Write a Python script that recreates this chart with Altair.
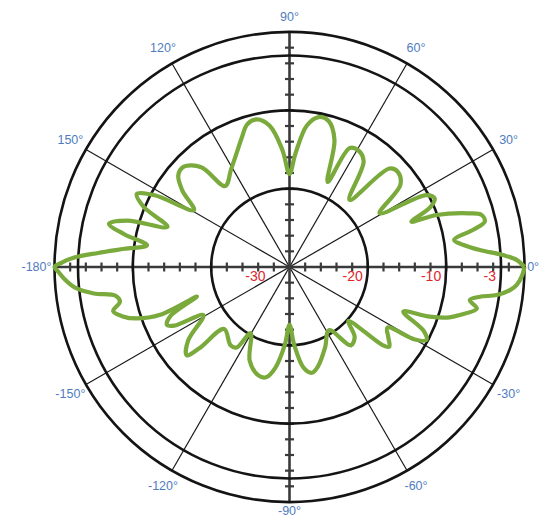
import altair as alt
import pandas as pd

# ---- radiation pattern, traced in drawing order (angle in degrees, level in dB) ----
pattern_deg = [
    0, 1.8, 3.2, 5.1, 7.2, 9.3, 11.5, 13.1, 15.2, 16.6, 19.5, 20.4, 23.0, 25.3, 27.8,
    30.8, 36.5, 41.3, 44.6, 48.2, 55.0, 59.7, 63.2, 65.8, 70.5, 75.0, 79.0, 83.0, 87.0,
    90.0, 93.5, 98.0, 102.5, 106.5, 110.5, 115.0, 121.0, 128.5, 131.5, 136.5, 140.5,
    144.5, 149.2, 152.0, 154.5, 157.5, 161.8, 164.0, 166.5, 168.8, 171.3, 173.7, 175.8,
    177.5, 179.0, 180.0,
    -178.8, -177.0, -174.5, -172.3, -170.6, -168.4, -166.0, -163.5, -161.4, -159.7,
    -162.3, -157.5, -154.7, -153.0, -150.8, -144.0, -139.4, -138.0, -136.5, -127.0,
    -123.3, -120.5, -113.0, -106.0, -102.0, -98.0, -93.5, -90.0, -86.5, -82.0, -78.0,
    -74.0, -66.0, -58.0, -52.0, -47.0, -42.5, -40.0, -38.6, -35.5, -31.8, -30.0, -28.1,
    -25.5, -21.4, -19.5, -17.5, -15.7, -12.5, -10.4, -8.9, -7.7, -6.0, -4.5, -2.2, 0.0,
]
pattern_db = [
    0, -1.0, -2.7, -5.6, -7.6, -8.7, -6.0, -4.4, -4.6, -6.0, -10.1, -13.4, -10.5, -9.5, -10.3,
    -16.6, -12.4, -11.6, -12.1, -18.5, -13.5, -12.7, -13.0, -18.1, -12.8, -10.7, -10.5, -11.8, -15.5,
    -18.1, -15.0, -11.8, -10.7, -11.0, -12.5, -14.0, -15.5, -16.8, -13.0, -11.4, -11.6,
    -13.2, -15.8, -10.5, -8.4, -9.8, -13.6, -8.5, -6.3, -8.5, -11.6, -8.8, -5.5,
    -2.5, -0.8, 0.0,
    -0.5, -1.2, -2.5, -4.8, -7.5, -7.9, -6.8, -7.8, -9.4, -12.4,
    -17.6, -13.5, -12.7, -13.5, -17.4, -14.0, -12.7, -14.5, -18.5, -17.5,
    -17.7, -20.2, -17.0, -15.6, -15.6, -17.0, -20.0, -22.6, -20.0, -17.0, -16.2,
    -16.8, -18.8, -20.5, -17.3, -17.8, -19.8, -14.5, -13.7, -14.5, -15.3, -11.5, -10.2,
    -11.0, -14.4, -11.0, -8.6, -7.4, -5.5, -6.6, -5.4, -3.3, -1.7, -0.9, -0.3, 0.0,
]

# ---- grid ----
ring_db = [-20, -10, -3, 0]
spoke_deg = [30, 60, 120, 150]
axis_deg = [0, 90]
tick_db = [-28, -26, -24, -22, -20, -18, -16, -14, -12, -10, -8, -6, -4, -2]
angle_label_deg = [0, 30, 60, 90, 120, 150, 180, -150, -120, -90, -60, -30]
angle_label_txt = ["0°", "30°", "60°", "90°", "120°", "150°", "-180°",
                   "-150°", "-120°", "-90°", "-60°", "-30°"]
ring_label_db = [-20, -10, -3]
ring_label_txt = ["-20", "-10", "-3"]
center_label_txt = ["-30"]

DB_MIN = -30
OUTER_PX = 235.0
K = OUTER_PX / 30.0            # pixels per dB
W, H = 533, 509
CX, CY = 281.5, 259.0          # centre of the polar plot inside the plot area

xs = alt.Scale(domain=[-CX / K, (W - CX) / K], nice=False, zero=False)
ys = alt.Scale(domain=[-(H - CY) / K, CY / K], nice=False, zero=False)


def X(f):
    return alt.X(f, type="quantitative", scale=xs, axis=None)


def Y(f):
    return alt.Y(f, type="quantitative", scale=ys, axis=None)


pat = pd.DataFrame({"i": list(range(len(pattern_deg))), "deg": pattern_deg, "db": pattern_db})
curve = alt.Chart(pat).transform_calculate(
    r=f"datum.db - ({DB_MIN})",
    px="datum.r * cos(datum.deg * PI / 180)",
    py="datum.r * sin(datum.deg * PI / 180)",
).mark_line(color="#7aa93c", strokeWidth=4.2, interpolate="catmull-rom").encode(
    x=X("px"), y=Y("py"), order=alt.Order("i:Q")
)

rings = alt.Chart(pd.DataFrame({"db": ring_db})).transform_calculate(
    cx="0", cy="0", sz=f"pow(2 * (datum.db - ({DB_MIN})) * {K}, 2)"
).mark_point(shape="circle", filled=False, color="#141414", strokeWidth=2.6, opacity=1).encode(
    x=X("cx"), y=Y("cy"), size=alt.Size("sz:Q", scale=None, legend=None)
)

spokes = alt.Chart(pd.DataFrame({"deg": spoke_deg})).transform_calculate(
    x1=f"{-DB_MIN} * cos(datum.deg * PI / 180)",
    y1=f"{-DB_MIN} * sin(datum.deg * PI / 180)",
    x2="-datum.x1", y2="-datum.y1",
).mark_rule(color="#1a1a1a", strokeWidth=1.2).encode(
    x=X("x1"), y=Y("y1"), x2="x2:Q", y2="y2:Q"
)

axes = alt.Chart(pd.DataFrame({"deg": axis_deg})).transform_calculate(
    x1=f"{-DB_MIN} * cos(datum.deg * PI / 180)",
    y1=f"{-DB_MIN} * sin(datum.deg * PI / 180)",
    x2="-datum.x1", y2="-datum.y1",
).mark_rule(color="#3a3a3a", strokeWidth=2.6).encode(
    x=X("x1"), y=Y("y1"), x2="x2:Q", y2="y2:Q"
)

tick_rows = [{"db": d, "s": s} for d in tick_db for s in (1, -1)]
tick_df = pd.DataFrame(tick_rows)
hticks = alt.Chart(tick_df).transform_calculate(
    tx=f"datum.s * (datum.db - ({DB_MIN}))", ty="0"
).mark_tick(orient="vertical", size=9, thickness=2.2, color="#3a3a3a", opacity=1).encode(
    x=X("tx"), y=Y("ty")
)
vticks = alt.Chart(tick_df).transform_calculate(
    tx="0", ty=f"datum.s * (datum.db - ({DB_MIN}))"
).mark_tick(orient="horizontal", size=9, thickness=2.2, color="#3a3a3a", opacity=1).encode(
    x=X("tx"), y=Y("ty")
)

# label radius (in dB units from the centre); the ones at the frame edges sit a little closer
label_r_expr = ("datum.deg == 0 ? 31.1 : (datum.deg == -90 ? 31.2 : "
                "(datum.deg == 90 ? 31.9 : 32.3))")
angle_labels = alt.Chart(
    pd.DataFrame({"deg": angle_label_deg, "txt": angle_label_txt})
).transform_calculate(
    lr=label_r_expr,
    lx="datum.lr * cos(datum.deg * PI / 180)",
    ly="datum.lr * sin(datum.deg * PI / 180)",
).mark_text(
    color="#4f7cc0", fontSize=12.5, font="Liberation Sans", align="center", baseline="middle"
).encode(x=X("lx"), y=Y("ly"), text="txt:N")

ring_labels = alt.Chart(
    pd.DataFrame({"db": ring_label_db, "txt": ring_label_txt})
).transform_calculate(
    lx=f"datum.db - ({DB_MIN})", ly="0"
).mark_text(
    color="#e0262b", fontSize=14, font="Liberation Sans", align="right", baseline="middle", dx=-5, dy=10
).encode(x=X("lx"), y=Y("ly"), text="txt:N")

center_label = alt.Chart(pd.DataFrame({"txt": center_label_txt})).transform_calculate(
    lx="0", ly="0"
).mark_text(
    color="#e0262b", fontSize=14, font="Liberation Sans", align="right", baseline="middle", dx=-24, dy=10
).encode(x=X("lx"), y=Y("ly"), text="txt:N")

chart = alt.layer(
    spokes, axes, hticks, vticks, rings, curve, angle_labels, ring_labels, center_label
).properties(
    width=W, height=H, padding=0, autosize=alt.AutoSizeParams(type="none")
).configure_view(stroke=None)

chart.save("out.html", embed_options={"renderer": "svg", "actions": False})
